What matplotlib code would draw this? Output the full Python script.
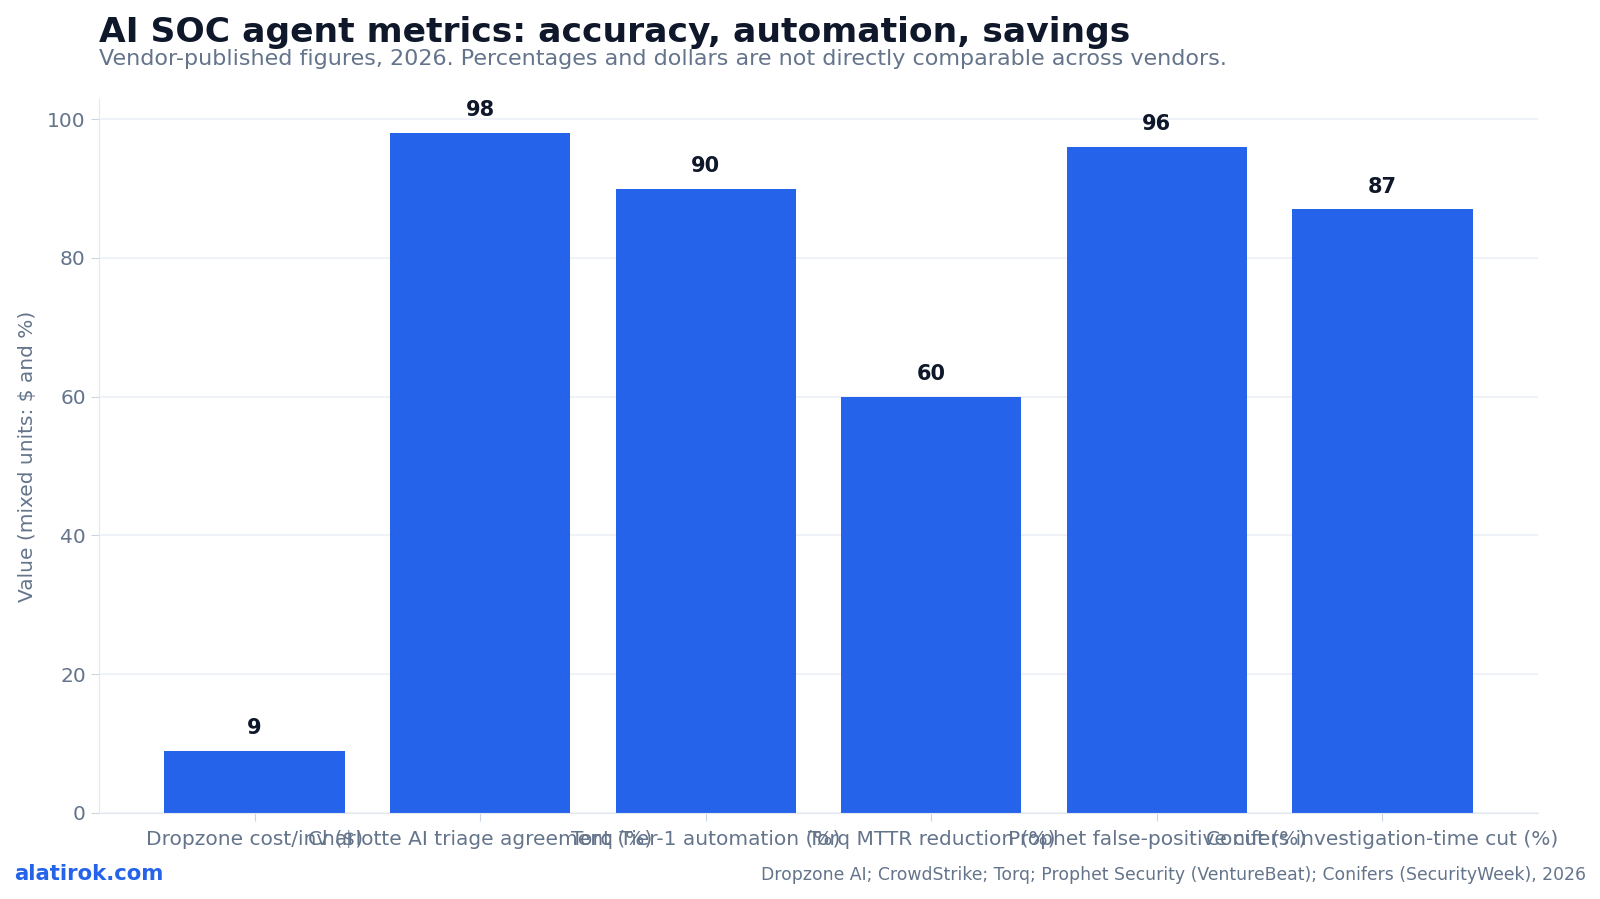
import matplotlib.pyplot as plt
import numpy as np

categories = [
    "Dropzone cost/inv ($)",
    "Charlotte AI triage agreement (%)",
    "Torq Tier-1 automation (%)",
    "Torq MTTR reduction (%)",
    "Prophet false-positive cut (%)",
    "Conifers investigation-time cut (%)",
]
values = [9, 98, 90, 60, 96, 87]

title = "AI SOC agent metrics: accuracy, automation, savings"
subtitle = "Vendor-published figures, 2026. Percentages and dollars are not directly comparable across vendors."
source = "Dropzone AI; CrowdStrike; Torq; Prophet Security (VentureBeat); Conifers (SecurityWeek), 2026"

blue = "#2563eb"
dark = "#0f172a"
slate = "#64748b"

fig = plt.figure(figsize=(16, 8.99), dpi=100)
ax = fig.add_axes([99 / 1600, 1 - 813 / 899, (1538 - 99) / 1600, (813 - 99) / 899])

x = np.arange(len(categories))
ax.bar(x, values, width=0.8, color=blue, zorder=2)
ax.set_ylim(0, max(values) * 1.05)

for xi, v in zip(x, values):
    ax.annotate(str(v), (xi, v), xytext=(0, 9), textcoords="offset points",
                ha="center", va="bottom", fontsize=15, fontweight="bold", color=dark)

ax.set_xticks(x, categories)
ax.tick_params(axis="both", colors=slate, labelsize=14.5, length=6)
ax.tick_params(axis="both", color="#cbd5e1")
ax.tick_params(axis="x", pad=6)
ax.set_ylabel("Value (mixed units: $ and %)", fontsize=14.5, color=slate, labelpad=7)
ax.grid(axis="y", color="#eef2f7", linewidth=1.3, zorder=0)
ax.set_axisbelow(True)
for s in ["top", "right"]:
    ax.spines[s].set_visible(False)
for s in ["left", "bottom"]:
    ax.spines[s].set_color("#e2e8f0")

fig.text(99 / 1600, 1 - 42 / 899, title, fontsize=24.8, fontweight="bold", color=dark, ha="left", va="baseline")
fig.text(99 / 1600, 1 - 65 / 899, subtitle, fontsize=16, color=slate, ha="left", va="baseline")
fig.text(14 / 1600, 1 - 880 / 899, "alatirok.com", fontsize=15.3, fontweight="bold", color=blue, ha="left", va="baseline")
fig.text(1586 / 1600, 1 - 880 / 899, source, fontsize=12.4, color=slate, ha="right", va="baseline")

fig.savefig("out.png", dpi=100)
